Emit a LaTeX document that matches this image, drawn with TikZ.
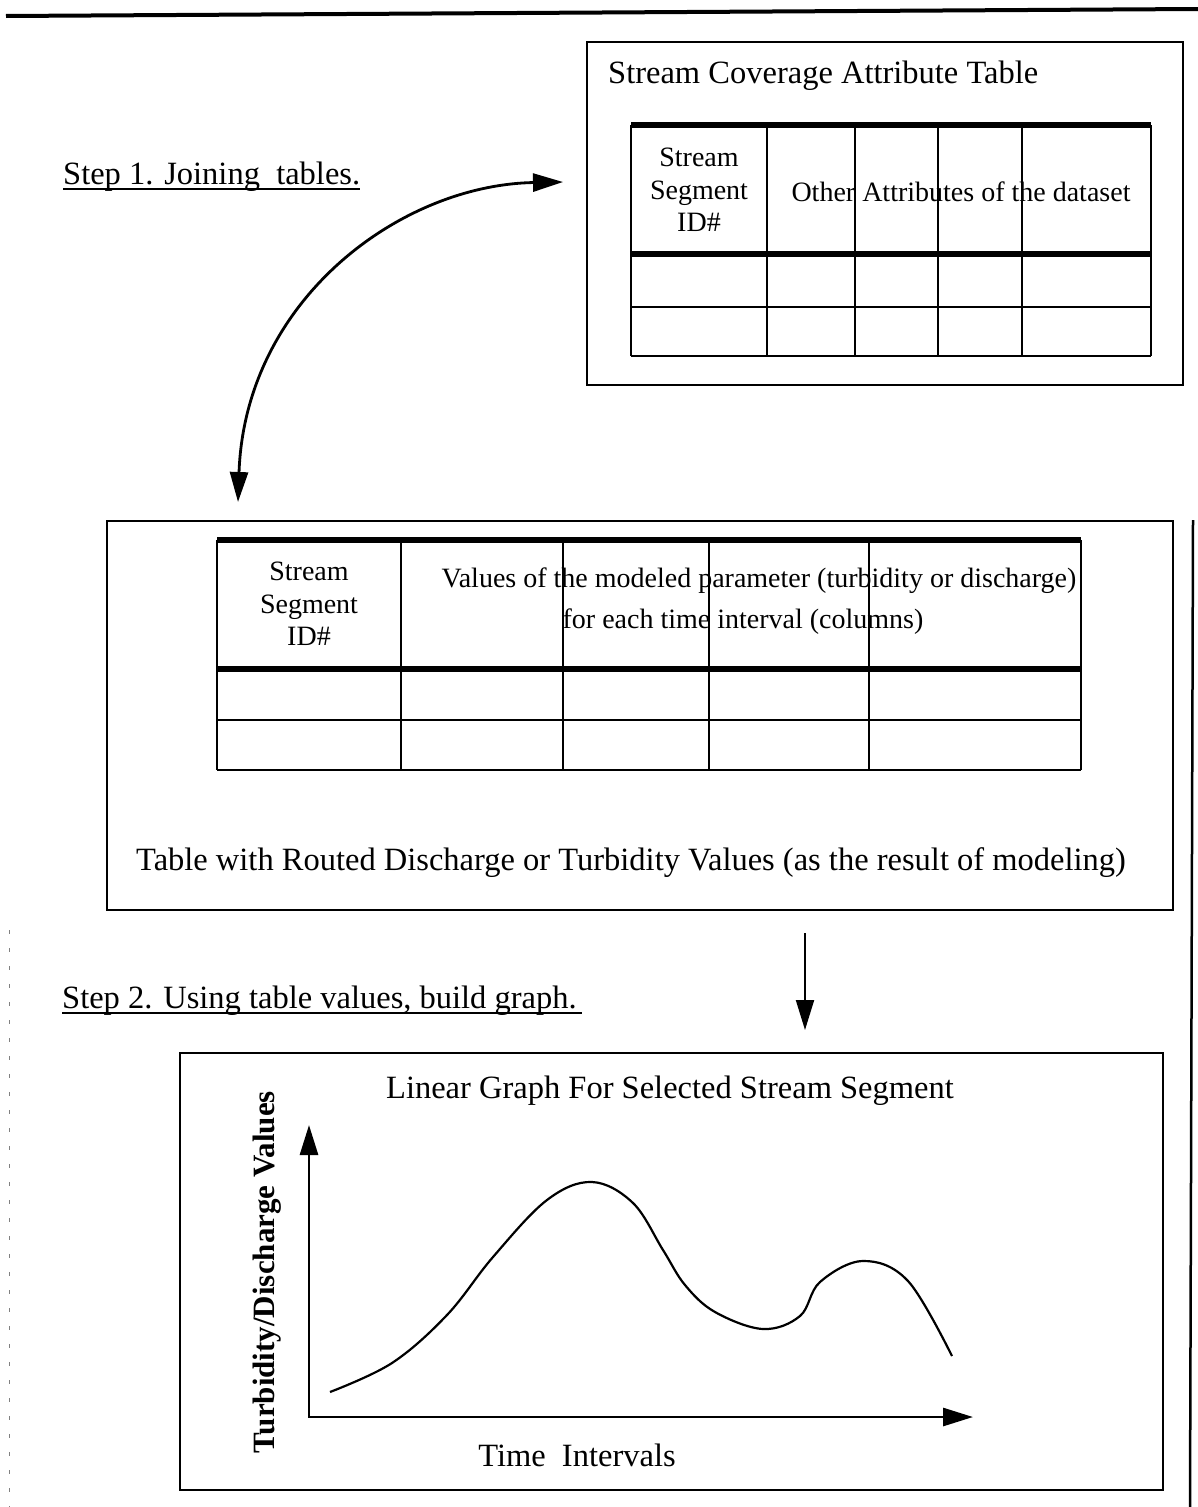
\documentclass[tikz,border=0pt]{standalone}
\usepackage{fontspec}
\setmainfont{Liberation Serif}
\usetikzlibrary{arrows.meta}

\begin{document}
\begin{tikzpicture}[x=1pt, y=-1pt,
  big/.style = {font=\fontsize{32.5}{36}\selectfont, inner sep=0pt},
  cell/.style = {font=\fontsize{28}{32.5}\selectfont, inner sep=0pt, align=center},
  panel/.style = {draw, line width=2.5pt, inner sep=0pt},
  rule/.style = {line width=2pt},
  heavy/.style = {line width=6pt},
  link/.style = {line width=2.8pt, {Triangle[length=30pt,width=18pt]}-{Triangle[length=30pt,width=18pt]}},
  down/.style = {line width=2pt, -{Triangle[length=30pt,width=18pt]}},
  ]
  \useasboundingbox (0,0) rectangle (1198,1507);
  \draw[line width=4pt] (6,16) -- (1198,9);
  \draw[line width=2.5pt] (1193,520) -- (1190,1507);
  \draw[gray, line width=1pt, dash pattern=on 4pt off 14pt] (9,930) -- (9,1507);

  \node[panel, minimum width=596pt, minimum height=343pt] (cov) at (885,213.5) {};
  \node[big, anchor=base west] (covt) at (608,83) {Stream Coverage Attribute Table};
  \node[cell] (sid1) at (699,190) {Stream\\Segment\\ID\#};
  \node[cell] (oth) at (961,192) {Other Attributes of the dataset};
  \foreach \x in {631,767,855,938,1022,1151}
    \draw[rule] (\x,125) -- (\x,356);
  \draw[heavy] (631,125) -- (1151,125);
  \draw[heavy] (631,254) -- (1151,254);
  \draw[rule] (631,307) -- (1151,307);
  \draw[rule] (631,356) -- (1151,356);

  \node[big, anchor=base west] (s1) at (63,184) {Step 1. Joining~~tables.};
  \draw[line width=2.5pt] ([yshift=-5pt]s1.base west) -- ([yshift=-5pt]s1.base east);
  \coordinate (j1) at (563,182);
  \coordinate (j2) at (238,502);
  \draw[link] (j2) .. controls (245,300) and (400,185) .. (j1);

  \node[panel, minimum width=1066pt, minimum height=389pt] (res) at (640,715.5) {};
  \node[cell] (sid2) at (309,604) {Stream\\Segment\\ID\#};
  \node[cell] (val1) at (759,581) {Values of the modeled parameter (turbidity or discharge)};
  \node[cell] (val2) at (743,622) {for each time interval (columns)};
  \foreach \x in {217,401,563,709,869,1081}
    \draw[rule] (\x,540) -- (\x,770);
  \draw[heavy] (217,540) -- (1081,540);
  \draw[heavy] (217,669) -- (1081,669);
  \draw[rule] (217,720) -- (1081,720);
  \draw[rule] (217,770) -- (1081,770);
  \node[big, anchor=base] (rest) at (631,870) {Table with Routed Discharge or Turbidity Values (as the result of modeling)};

  \coordinate (d1) at (805,933);
  \coordinate (d2) at (805,1030);
  \draw[down] (d1) -- (d2);
  \node[big, anchor=base west] (s2) at (62,1008) {Step 2. Using table values, build graph.};
  \draw[line width=2.5pt] ([yshift=-5pt]s2.base west) -- ([yshift=-5pt,xshift=5pt]s2.base east);

  \node[panel, minimum width=983pt, minimum height=437pt] (grf) at (671.5,1271.5) {};
  \node[big, anchor=base] (grft) at (670,1098) {Linear Graph For Selected Stream Segment};
  \coordinate (org) at (309,1417);
  \coordinate (ytip) at (309,1125);
  \coordinate (xtip) at (973,1417);
  \draw[link] (ytip) -- (org) -- (xtip);
  \draw[line width=2.2pt] plot[smooth, tension=0.6] coordinates {(330,1392) (392,1363) (447,1315) (493,1257) (547,1200) (592,1182) (633,1203) (663,1250) (685,1285) (715,1312) (763,1329) (800,1316) (820,1282) (863,1261) (908,1281) (952,1356)};
  \node[big, anchor=base] (xlab) at (577,1466) {Time~~Intervals};
  \node[font=\fontsize{31}{34}\selectfont\bfseries, inner sep=0pt, rotate=90, anchor=base] (ylab) at (274,1272) {Turbidity/Discharge Values};
\end{tikzpicture}
\end{document}
